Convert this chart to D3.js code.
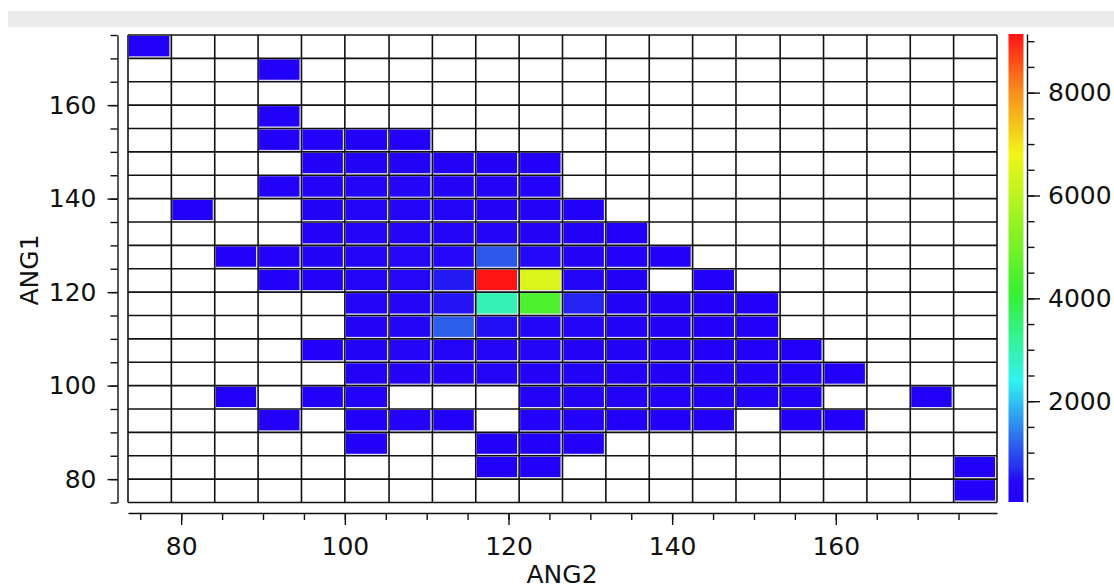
<!DOCTYPE html>
<html>
<head>
<meta charset="utf-8">
<script src="https://cdn.jsdelivr.net/npm/d3@7"></script>
<style>
    body { margin: 0; background: #fff; }
    svg text { font-family: "DejaVu Sans", sans-serif; fill: #111; }
    .axis path, .axis line { stroke: #111; }
</style>
</head>
<body>
<svg id="chart" width="1114" height="588"></svg>
<script>
// ANG2 bin edges (left to right) and ANG1 bin edges (top to bottom)
var ang2Edges = [73.5, 78.8, 84.1, 89.4, 94.7, 100.0, 105.4, 110.7, 116.0, 121.3, 126.6,
                 131.9, 137.2, 142.5, 147.8, 153.2, 158.5, 163.8, 169.1, 174.4, 179.7]
var ang1Edges = [175, 170, 165, 160, 155, 150, 145, 140, 135, 130, 125,
                 120, 115, 110, 105, 100, 95, 90, 85, 80, 75]

// counts per cell, one row per ANG1 bin (top row first), 0 = empty
var counts = [
    [60, 0, 0, 0, 0, 0, 0, 0, 0, 0, 0, 0, 0, 0, 0, 0, 0, 0, 0, 0],
    [0, 0, 0, 50, 0, 0, 0, 0, 0, 0, 0, 0, 0, 0, 0, 0, 0, 0, 0, 0],
    [0, 0, 0, 0, 0, 0, 0, 0, 0, 0, 0, 0, 0, 0, 0, 0, 0, 0, 0, 0],
    [0, 0, 0, 70, 0, 0, 0, 0, 0, 0, 0, 0, 0, 0, 0, 0, 0, 0, 0, 0],
    [0, 0, 0, 80, 120, 150, 110, 0, 0, 0, 0, 0, 0, 0, 0, 0, 0, 0, 0, 0],
    [0, 0, 0, 0, 160, 220, 240, 200, 150, 90, 0, 0, 0, 0, 0, 0, 0, 0, 0, 0],
    [0, 0, 0, 60, 210, 280, 300, 260, 200, 130, 0, 0, 0, 0, 0, 0, 0, 0, 0, 0],
    [0, 50, 0, 0, 230, 310, 330, 300, 250, 190, 90, 0, 0, 0, 0, 0, 0, 0, 0, 0],
    [0, 0, 0, 0, 200, 290, 340, 360, 320, 260, 150, 70, 0, 0, 0, 0, 0, 0, 0, 0],
    [0, 0, 70, 130, 220, 330, 380, 420, 1100, 380, 260, 140, 60, 0, 0, 0, 0, 0, 0, 0],
    [0, 0, 0, 110, 200, 330, 390, 560, 9140, 6500, 330, 160, 0, 60, 0, 0, 0, 0, 0, 0],
    [0, 0, 0, 0, 0, 280, 360, 520, 2950, 4400, 620, 240, 150, 90, 50, 0, 0, 0, 0, 0],
    [0, 0, 0, 0, 0, 250, 330, 1150, 480, 360, 300, 220, 150, 100, 60, 0, 0, 0, 0, 0],
    [0, 0, 0, 0, 70, 220, 300, 340, 330, 310, 270, 220, 160, 110, 70, 40, 0, 0, 0, 0],
    [0, 0, 0, 0, 0, 180, 250, 270, 280, 260, 230, 190, 150, 110, 70, 60, 40, 0, 0, 0],
    [0, 0, 40, 0, 60, 140, 0, 0, 0, 180, 200, 170, 140, 110, 80, 50, 0, 0, 40, 0],
    [0, 0, 0, 50, 0, 110, 120, 100, 0, 120, 130, 110, 90, 60, 0, 50, 40, 0, 0, 0],
    [0, 0, 0, 0, 0, 60, 0, 0, 70, 90, 60, 0, 0, 0, 0, 0, 0, 0, 0, 0],
    [0, 0, 0, 0, 0, 0, 0, 0, 60, 70, 0, 0, 0, 0, 0, 0, 0, 0, 0, 40],
    [0, 0, 0, 0, 0, 0, 0, 0, 0, 0, 0, 0, 0, 0, 0, 0, 0, 0, 0, 50]
]

var ang2Ticks = [80, 100, 120, 140, 160]
var ang1Ticks = [80, 100, 120, 140, 160]
var colorTicks = [2000, 4000, 6000, 8000]
var colorMin = 40
var colorMax = 9140
var colorStops = [40, 450, 700, 1100, 2400, 4100, 6800, 8000, 9140]
var colorValues = ['#2200f8', '#2308f6', '#2630f0', '#2c58ec', '#33f2f2', '#38f030', '#f2f51a', '#f7901e', '#ff1414']

var svg = d3.select('#chart')

// grey strip above the chart
svg.append('rect')
    .attr('x', 8).attr('y', 11)
    .attr('width', 1106).attr('height', 16)
    .attr('fill', '#ebebeb')

var x = d3.scaleLinear().domain([ang2Edges[0], ang2Edges[ang2Edges.length-1]]).range([128, 997])
var y = d3.scaleLinear().domain([75, 175]).range([502.5, 35])
var color = d3.scaleLinear().domain(colorStops).range(colorValues).clamp(true)

// cells
var cells = []
counts.forEach(function(row, r) {
    row.forEach(function(v, c) {
        if (v > 0)
            cells.push({ r: r, c: c, v: v })
    })
})

var plot = svg.append('g')
plot.selectAll('rect.cell')
    .data(cells)
    .enter().append('rect')
    .attr('class', 'cell')
    .attr('x', function(d) { return x(ang2Edges[d.c]) + 0.5 })
    .attr('y', function(d) { return y(ang1Edges[d.r]) + 0.5 })
    .attr('width', function(d) { return x(ang2Edges[d.c+1]) - x(ang2Edges[d.c]) - 2 })
    .attr('height', function(d) { return y(ang1Edges[d.r+1]) - y(ang1Edges[d.r]) - 2 })
    .attr('fill', function(d) { return color(d.v) })
    .attr('stroke', '#e4e4f2')
    .attr('stroke-width', 1)

// black cell grid
var grid = svg.append('g').attr('stroke', '#111').attr('stroke-width', 1.6)
grid.selectAll('line.v')
    .data(ang2Edges)
    .enter().append('line')
    .attr('x1', function(d) { return x(d) }).attr('x2', function(d) { return x(d) })
    .attr('y1', y(175)).attr('y2', y(75))
grid.selectAll('line.h')
    .data(ang1Edges)
    .enter().append('line')
    .attr('y1', function(d) { return y(d) }).attr('y2', function(d) { return y(d) })
    .attr('x1', x.range()[0]).attr('x2', x.range()[1])

function styleAxis(g) {
    g.attr('class', 'axis')
        .attr('font-size', 25)
        .attr('font-family', '"DejaVu Sans", sans-serif')
    g.selectAll('path, line').attr('stroke-width', 1.4)
}

// x axis (detached, below the grid)
svg.append('g')
    .attr('transform', 'translate(0,513)')
    .call(d3.axisBottom(x).tickValues(d3.range(75, 180, 5)).tickSize(7).tickSizeOuter(0).tickFormat(''))
    .call(styleAxis)
var xMajor = svg.append('g')
    .attr('transform', 'translate(0,513)')
    .call(d3.axisBottom(x).tickValues(ang2Ticks).tickSize(12).tickPadding(12).tickSizeOuter(0))
    .call(styleAxis)
xMajor.select('.domain').remove()

// y axis
svg.append('g')
    .attr('transform', 'translate(117.5,0)')
    .call(d3.axisLeft(y).tickValues(d3.range(75, 180, 5)).tickSize(7).tickSizeOuter(0).tickFormat(''))
    .call(styleAxis)
var yMajor = svg.append('g')
    .attr('transform', 'translate(117.5,0)')
    .call(d3.axisLeft(y).tickValues(ang1Ticks).tickSize(10).tickPadding(11).tickSizeOuter(0))
    .call(styleAxis)
yMajor.select('.domain').remove()

// axis titles
svg.append('text')
    .attr('x', 562).attr('y', 583)
    .attr('text-anchor', 'middle')
    .attr('font-size', 25)
    .text('ANG2')
svg.append('text')
    .attr('transform', 'translate(38,270) rotate(-90)')
    .attr('text-anchor', 'middle')
    .attr('font-size', 25)
    .text('ANG1')

// colour bar
var cy = d3.scaleLinear().domain([colorMin, colorMax]).range([502, 34])
var grad = svg.append('defs').append('linearGradient')
    .attr('id', 'cbar')
    .attr('x1', 0).attr('y1', 1).attr('x2', 0).attr('y2', 0)
grad.selectAll('stop')
    .data(colorStops)
    .enter().append('stop')
    .attr('offset', function(d) { return (d - colorMin) / (colorMax - colorMin) })
    .attr('stop-color', function(d) { return color(d) })
svg.append('rect')
    .attr('x', 1008.5).attr('y', cy(colorMax))
    .attr('width', 15).attr('height', cy(colorMin) - cy(colorMax))
    .attr('fill', 'url(#cbar)')

svg.append('g')
    .attr('transform', 'translate(1027,0)')
    .call(d3.axisRight(cy).tickValues(d3.range(500, 9001, 500)).tickSize(7.5).tickSizeOuter(0).tickFormat(''))
    .call(styleAxis)
var cMajor = svg.append('g')
    .attr('transform', 'translate(1027,0)')
    .call(d3.axisRight(cy).tickValues(colorTicks).tickSize(13).tickPadding(8).tickSizeOuter(0).tickFormat(d3.format('d')))
    .call(styleAxis)
cMajor.select('.domain').remove()
</script>
</body>
</html>
